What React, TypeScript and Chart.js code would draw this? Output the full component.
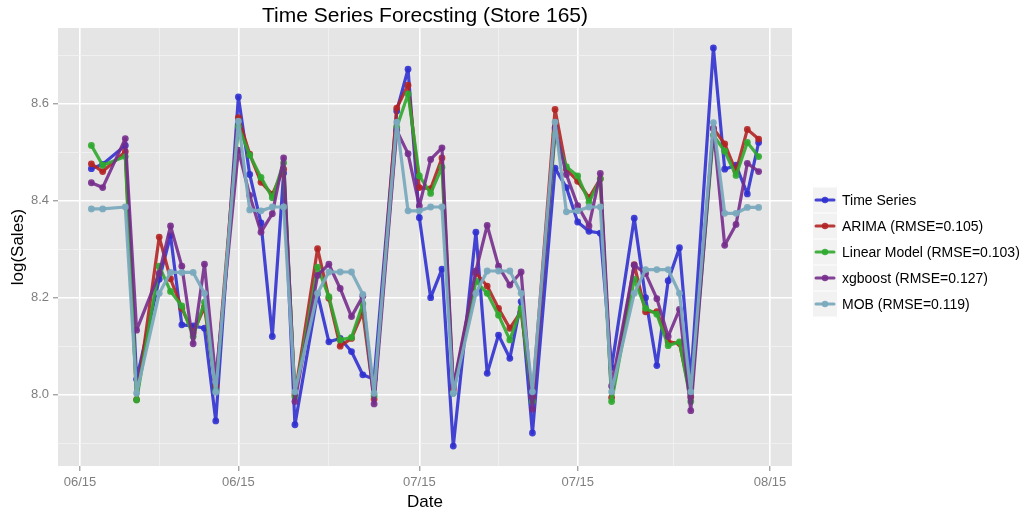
import React, { useEffect, useRef } from "react";
import { Chart, registerables } from "chart.js";

Chart.register(...registerables);

// ---- data (day index: 0 = 2015-06-02) ----
const days = [0, 1, 3, 4, 6, 7, 8, 9, 10, 11, 13, 14, 15, 16, 17, 18, 20, 21, 22, 23, 24, 25, 27, 28, 29, 30, 31, 32, 34, 35, 36, 37, 38, 39, 41, 42, 43, 44, 45, 46, 48, 49, 50, 51, 52, 53, 55, 56, 57, 58, 59];

const timeSeries = [8.466, 8.475, 8.514, 8.032, 8.238, 8.328, 8.144, 8.142, 8.137, 7.946, 8.614, 8.454, 8.354, 8.120, 8.457, 7.938, 8.208, 8.109, 8.116, 8.089, 8.041, 8.032, 8.585, 8.671, 8.365, 8.200, 8.259, 7.894, 8.335, 8.044, 8.123, 8.075, 8.192, 7.921, 8.467, 8.427, 8.356, 8.337, 8.333, 8.056, 8.364, 8.200, 8.060, 8.235, 8.303, 8.030, 8.715, 8.465, 8.473, 8.414, 8.520];

const arima = [8.476, 8.460, 8.501, 7.990, 8.325, 8.239, 8.178, 8.127, 8.181, 8.018, 8.571, 8.496, 8.438, 8.413, 8.465, 8.000, 8.301, 8.199, 8.100, 8.116, 8.170, 7.991, 8.591, 8.638, 8.427, 8.425, 8.488, 8.010, 8.251, 8.224, 8.178, 8.137, 8.171, 7.995, 8.588, 8.465, 8.440, 8.406, 8.445, 7.994, 8.268, 8.171, 8.171, 8.109, 8.106, 7.995, 8.549, 8.517, 8.460, 8.547, 8.527];

const linearModel = [8.514, 8.473, 8.491, 7.989, 8.265, 8.213, 8.183, 8.120, 8.191, 8.008, 8.553, 8.494, 8.448, 8.406, 8.478, 7.996, 8.263, 8.202, 8.113, 8.118, 8.187, 7.998, 8.551, 8.620, 8.451, 8.415, 8.469, 8.003, 8.234, 8.209, 8.164, 8.113, 8.178, 7.986, 8.536, 8.470, 8.451, 8.397, 8.445, 7.986, 8.238, 8.178, 8.166, 8.101, 8.109, 7.986, 8.535, 8.502, 8.452, 8.520, 8.491];

const xgboost = [8.437, 8.427, 8.528, 8.133, 8.250, 8.348, 8.265, 8.105, 8.269, 8.032, 8.504, 8.411, 8.335, 8.373, 8.488, 7.986, 8.246, 8.269, 8.219, 8.161, 8.203, 7.981, 8.545, 8.497, 8.389, 8.485, 8.509, 8.016, 8.255, 8.349, 8.265, 8.226, 8.253, 7.970, 8.550, 8.454, 8.390, 8.348, 8.456, 8.018, 8.267, 8.250, 8.198, 8.120, 8.176, 7.967, 8.549, 8.308, 8.351, 8.477, 8.460];

const mob = [8.383, 8.383, 8.387, 8.003, 8.209, 8.252, 8.252, 8.252, 8.209, 8.005, 8.564, 8.381, 8.379, 8.387, 8.387, 8.006, 8.209, 8.253, 8.253, 8.253, 8.207, 8.003, 8.562, 8.379, 8.379, 8.387, 8.387, 8.003, 8.209, 8.255, 8.255, 8.255, 8.209, 8.006, 8.562, 8.377, 8.379, 8.387, 8.387, 8.006, 8.209, 8.258, 8.258, 8.258, 8.209, 8.006, 8.561, 8.374, 8.374, 8.386, 8.386];

const seriesNames = ["Time Series", "ARIMA (RMSE=0.105)", "Linear Model (RMSE=0.103)", "xgboost (RMSE=0.127)", "MOB (RMSE=0.119)"];
const seriesData = [timeSeries, arima, linearModel, xgboost, mob];
const seriesColors = ["rgba(48,48,208,0.9)", "rgba(178,36,36,0.9)", "rgba(46,168,46,0.9)", "rgba(118,44,140,0.9)", "rgba(122,170,190,0.95)"];

const xTickDays = [-1, 13, 29, 43, 60];
const xTickLabels = ["06/15", "06/15", "07/15", "07/15", "08/15"];
const xMinorDays = [6, 21, 36, 51.5];
const yMajorTicks = [8.0, 8.2, 8.4, 8.6];
const yMinorTicks = [7.9, 8.1, 8.3, 8.5, 8.7];

const titleText = "Time Series Forecsting (Store 165)";
const xTitle = "Date";
const yTitle = "log(Sales)";

const FONT = "'Liberation Sans', Arial, Helvetica, sans-serif";

const near = (a: number, list: number[]) => list.some((v) => Math.abs(v - a) < 1e-6);

export default function App() {
  const ref = useRef<HTMLCanvasElement | null>(null);

  useEffect(() => {
    if (!ref.current) return;

    const decor = {
      id: "decor",
      beforeDraw(chart: any) {
        const { ctx, chartArea } = chart;
        ctx.save();
        ctx.fillStyle = "#ffffff";
        ctx.fillRect(0, 0, chart.width, chart.height);
        ctx.fillStyle = "#e5e5e5";
        ctx.fillRect(chartArea.left, chartArea.top, chartArea.right - chartArea.left, chartArea.bottom - chartArea.top);
        ctx.restore();
      },
      afterDraw(chart: any) {
        const { ctx, chartArea } = chart;
        const cx = (chartArea.left + chartArea.right) / 2;
        const cy = (chartArea.top + chartArea.bottom) / 2;
        ctx.save();
        ctx.fillStyle = "#000000";
        ctx.textAlign = "center";
        ctx.textBaseline = "middle";
        ctx.font = `21px ${FONT}`;
        ctx.fillText(titleText, cx, 16);
        ctx.font = `17px ${FONT}`;
        ctx.fillText(xTitle, cx, 502);
        ctx.save();
        ctx.translate(18, cy);
        ctx.rotate(-Math.PI / 2);
        ctx.fillText(yTitle, 0, 0);
        ctx.restore();

        // legend
        const keyX = 813;
        const keyW = 24;
        const rowH = 26;
        const firstY = 200;
        ctx.font = `14px ${FONT}`;
        ctx.textAlign = "left";
        ctx.lineCap = "round";
        for (let i = 0; i < seriesNames.length; i++) {
          const yc = firstY + i * rowH;
          ctx.fillStyle = "#f2f2f2";
          ctx.fillRect(keyX, yc - rowH / 2 + 0.5, keyW, rowH - 1);
          ctx.strokeStyle = seriesColors[i];
          ctx.lineWidth = 3;
          ctx.beginPath();
          ctx.moveTo(keyX + 3, yc);
          ctx.lineTo(keyX + keyW - 3, yc);
          ctx.stroke();
          ctx.fillStyle = seriesColors[i];
          ctx.beginPath();
          ctx.arc(keyX + keyW / 2, yc, 3.2, 0, Math.PI * 2);
          ctx.fill();
          ctx.fillStyle = "#000000";
          ctx.fillText(seriesNames[i], 842, yc + 1);
        }
        ctx.restore();
      },
    };

    const datasets = seriesNames.map((name, i) => ({
      label: name,
      data: days.map((d, j) => ({ x: d, y: seriesData[i][j] })),
      borderColor: seriesColors[i],
      backgroundColor: seriesColors[i],
      borderWidth: 3.2,
      borderJoinStyle: "round",
      borderCapStyle: "round",
      pointRadius: 3.4,
      pointBorderWidth: 0,
      pointBackgroundColor: seriesColors[i],
      tension: 0,
      order: seriesNames.length - 1 - i,
    }));

    const chart = new Chart(ref.current, {
      type: "line",
      data: { datasets },
      plugins: [decor],
      options: {
        animation: false,
        responsive: false,
        devicePixelRatio: 1,
        layout: { padding: { left: 0, right: 234, top: 28, bottom: 0 } },
        plugins: { legend: { display: false }, tooltip: { enabled: false }, title: { display: false } },
        scales: {
          x: {
            type: "linear",
            min: -2.95,
            max: 61.95,
            afterBuildTicks: (axis: any) => {
              const vals = [...xTickDays, ...xMinorDays].sort((a, b) => a - b);
              axis.ticks = vals.map((v) => ({ value: v }));
            },
            afterFit: (axis: any) => {
              axis.height = 47;
            },
            border: { display: false },
            grid: {
              color: (c: any) => (c.tick && near(c.tick.value, xTickDays) ? "#ffffff" : "#f2f2f2"),
              lineWidth: (c: any) => (c.tick && near(c.tick.value, xTickDays) ? 1.6 : 0.8),
              tickColor: (c: any) => (c.tick && near(c.tick.value, xTickDays) ? "#7f7f7f" : "rgba(0,0,0,0)"),
              tickLength: 5,
              tickWidth: 1,
            },
            ticks: {
              autoSkip: false,
              maxRotation: 0,
              minRotation: 0,
              padding: 4,
              color: "#7f7f7f",
              font: { family: FONT, size: 13 },
              callback: (value: any) => {
                const idx = xTickDays.findIndex((d) => Math.abs(d - Number(value)) < 1e-6);
                return idx >= 0 ? xTickLabels[idx] : "";
              },
            },
          },
          y: {
            type: "linear",
            min: 7.853,
            max: 8.756,
            afterBuildTicks: (axis: any) => {
              const vals = [...yMajorTicks, ...yMinorTicks].sort((a, b) => a - b);
              axis.ticks = vals.map((v) => ({ value: v }));
            },
            afterFit: (axis: any) => {
              axis.width = 58;
            },
            border: { display: false },
            grid: {
              color: (c: any) => (c.tick && near(c.tick.value, yMajorTicks) ? "#ffffff" : "#f2f2f2"),
              lineWidth: (c: any) => (c.tick && near(c.tick.value, yMajorTicks) ? 1.6 : 0.8),
              tickColor: (c: any) => (c.tick && near(c.tick.value, yMajorTicks) ? "#7f7f7f" : "rgba(0,0,0,0)"),
              tickLength: 5,
              tickWidth: 1,
            },
            ticks: {
              autoSkip: false,
              padding: 4,
              color: "#7f7f7f",
              font: { family: FONT, size: 13 },
              callback: (value: any) => (near(Number(value), yMajorTicks) ? Number(value).toFixed(1) : ""),
            },
          },
        },
      },
    } as any);

    return () => chart.destroy();
  }, []);

  return (
    <div style={{ position: "fixed", left: 0, top: 0, width: 1026, height: 513, background: "#ffffff" }}>
      <canvas ref={ref} width={1026} height={513} style={{ width: 1026, height: 513, display: "block" }} />
    </div>
  );
}
